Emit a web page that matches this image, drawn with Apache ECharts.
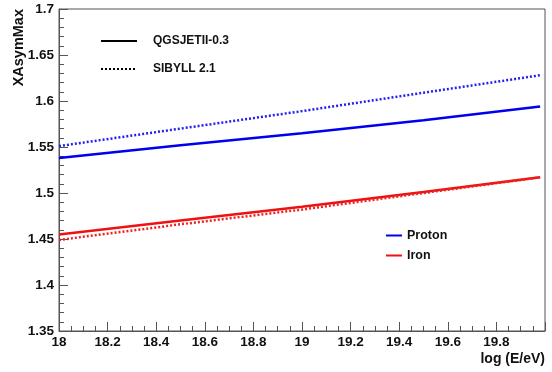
<!DOCTYPE html>
<html><head><meta charset="utf-8">
<script src="https://cdn.jsdelivr.net/npm/echarts@6/dist/echarts.min.js"></script>
<style>html,body{margin:0;padding:0;background:#fff}#c{width:552px;height:372px}</style>
</head><body><div id="c"></div>
<script>
const energies = [18.0, 18.5, 19.0, 19.5, 19.98];
const protonQGSJET = [1.538, 1.552, 1.565, 1.579, 1.594];
const protonSIBYLL = [1.551, 1.570, 1.589, 1.609, 1.628];
const ironQGSJET = [1.455, 1.470, 1.485, 1.501, 1.517];
const ironSIBYLL = [1.449, 1.466, 1.482, 1.500, 1.517];
const xTicks = ['18','18.2','18.4','18.6','18.8','19','19.2','19.4','19.6','19.8'];
const yTicks = ['1.35','1.4','1.45','1.5','1.55','1.6','1.65','1.7'];

const pair = (xs, ys) => xs.map((x, i) => [x, ys[i]]);
const font = 'Liberation Sans, Arial, sans-serif';
const axisCol = '#555';

const chart = echarts.init(document.getElementById('c'));
chart.setOption({
  animation: false,
  backgroundColor: '#fff',
  grid: {left: 59, right: 7, top: 9, bottom: 41, show: true, borderColor: axisCol, borderWidth: 1, backgroundColor: 'transparent',
         containLabel: false, outerBoundsMode: 'none'},
  xAxis: {
    type: 'value', min: 18, max: 20, interval: 0.2,
    name: 'log (E/eV)', nameLocation: 'end', nameGap: 0, nameMoveOverlap: false,
    nameTextStyle: {fontFamily: font, fontWeight: 'bold', fontSize: 14, color: '#111', align: 'right', verticalAlign: 'top', padding: [21, 0, 0, 0]},
    axisLine: {show: true, lineStyle: {color: axisCol, width: 1}},
    axisTick: {show: true, inside: true, length: 9, lineStyle: {color: axisCol}},
    minorTick: {show: true, splitNumber: 4, length: 5, lineStyle: {color: axisCol}},
    splitLine: {show: false},
    axisLabel: {fontFamily: font, fontWeight: 'bold', fontSize: 13.5, color: '#111', margin: 4,
      formatter: v => { const s = xTicks.find(t => Math.abs(parseFloat(t) - v) < 1e-6); return s || ''; }}
  },
  yAxis: {
    type: 'value', min: 1.35, max: 1.7, interval: 0.05,
    name: 'XAsymMax', nameLocation: 'end', nameGap: 0, nameRotate: 90, nameMoveOverlap: false,
    nameTextStyle: {fontFamily: font, fontWeight: 'bold', fontSize: 14.5, color: '#111', align: 'right', verticalAlign: 'bottom', padding: [0, 0, 33, 0]},
    axisLine: {show: true, lineStyle: {color: axisCol, width: 1}},
    axisTick: {show: true, inside: true, length: 9, lineStyle: {color: axisCol}},
    minorTick: {show: true, splitNumber: 5, length: 5, lineStyle: {color: axisCol}},
    splitLine: {show: false},
    axisLabel: {fontFamily: font, fontWeight: 'bold', fontSize: 13.5, color: '#111', margin: 5,
      formatter: v => { const s = yTicks.find(t => Math.abs(parseFloat(t) - v) < 1e-6); return s || ''; }}
  },
  legend: [
    {data: ['QGSJETII-0.3', 'SIBYLL 2.1'], orient: 'vertical', left: 95, top: 30, itemWidth: 36, itemHeight: 10, itemGap: 16,
     itemStyle: {opacity: 0},
     textStyle: {fontFamily: font, fontWeight: 'bold', fontSize: 12, color: '#111', padding: [0, 0, 0, 11]}, selectedMode: false},
    {data: ['Proton', 'Iron'], orient: 'vertical', left: 380, top: 224, itemWidth: 16, itemHeight: 8, itemGap: 7,
     itemStyle: {opacity: 0},
     textStyle: {fontFamily: font, fontWeight: 'bold', fontSize: 12.5, color: '#111', padding: [0, 0, 0, 0]}, selectedMode: false}
  ],
  series: [
    {name: 'QGSJETII-0.3', type: 'line', data: [], symbol: 'none', itemStyle: {color: '#000'}, lineStyle: {color: '#000', width: 3, type: 'solid'}},
    {name: 'SIBYLL 2.1', type: 'line', data: [], symbol: 'none', itemStyle: {color: '#000'}, lineStyle: {color: '#000', width: 3, type: [2, 2]}},
    {name: 'Proton', type: 'line', data: [], symbol: 'none', itemStyle: {color: '#0000ee'}, lineStyle: {color: '#0000ee', width: 2.5}},
    {name: 'Iron', type: 'line', data: [], symbol: 'none', itemStyle: {color: '#ee1111'}, lineStyle: {color: '#ee1111', width: 2.5}},
    {name: 'p-qgs', type: 'line', data: pair(energies, protonQGSJET), symbol: 'none', lineStyle: {color: '#0000ee', width: 2.5}},
    {name: 'p-sib', type: 'line', data: pair(energies, protonSIBYLL), symbol: 'none', lineStyle: {color: '#2222ee', width: 2.5, type: [2, 2]}},
    {name: 'fe-qgs', type: 'line', data: pair(energies, ironQGSJET), symbol: 'none', lineStyle: {color: '#ee1111', width: 2.5}},
    {name: 'fe-sib', type: 'line', data: pair(energies, ironSIBYLL), symbol: 'none', lineStyle: {color: '#ee2222', width: 2.5, type: [2, 2]}}
  ]
});
</script></body></html>
